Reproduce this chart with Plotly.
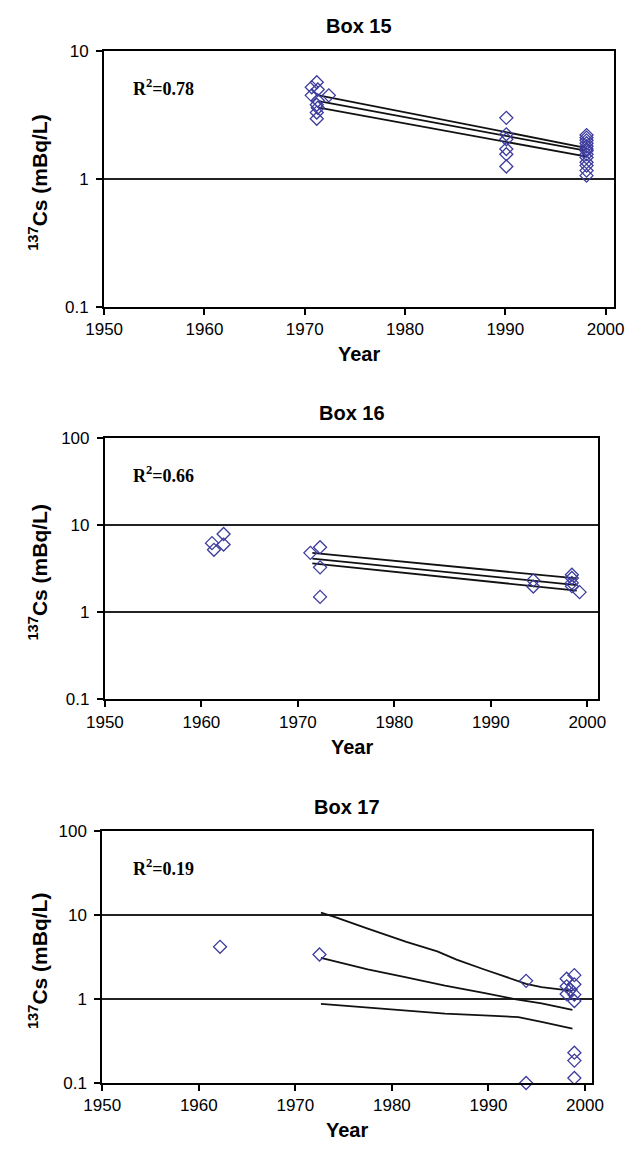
import plotly.graph_objects as go

# ---- data: 137Cs activity (mBq/L) by sampling year ----
box15_year = [1971.2, 1970.7, 1971.3, 1970.7, 1972.4, 1971.3, 1971.2, 1971.3, 1971.2, 1971.2,
              1990.1, 1990.1, 1990.1, 1990.1, 1990.1, 1990.1,
              1998.1, 1998.1, 1998.1, 1998.1, 1998.1, 1998.1, 1998.1, 1998.1, 1998.1,
              1998.1, 1998.1, 1998.1, 1998.1]
box15_cs = [5.7, 5.2, 5.0, 4.5, 4.5, 4.1, 3.8, 3.6, 3.3, 2.95,
            3.0, 2.23, 2.04, 1.71, 1.56, 1.25,
            2.2, 2.1, 2.0, 1.9, 1.8, 1.71, 1.66, 1.56, 1.47,
            1.35, 1.27, 1.16, 1.06]
box15_fit_year = [1971.4, 1998.0]
box15_fit_hi = [4.5, 1.75]
box15_fit_mid = [4.05, 1.66]
box15_fit_lo = [3.6, 1.5]

box16_year = [1961.1, 1961.3, 1962.3, 1962.3,
              1971.3, 1972.3, 1972.3, 1972.3,
              1994.4, 1994.4,
              1998.4, 1998.4, 1998.4, 1998.4, 1999.2]
box16_cs = [6.2, 5.2, 7.9, 5.97,
            4.8, 5.57, 3.27, 1.5,
            2.32, 1.97,
            2.69, 2.47, 2.17, 1.99, 1.70]
box16_fit_year = [1971.5, 1998.9]
box16_fit_hi = [4.8, 2.44]
box16_fit_mid = [4.13, 2.05]
box16_fit_lo = [3.63, 1.77]

box17_year = [1962.2, 1972.5, 1993.9, 1993.9,
              1998.1, 1998.9, 1998.9, 1998.1, 1998.5, 1998.9, 1998.1, 1998.9,
              1998.9, 1998.9, 1998.9]
box17_cs = [4.2, 3.4, 1.65, 0.1,
            1.75, 1.93, 1.5, 1.42, 1.3, 1.13, 1.15, 0.95,
            0.23, 0.185, 0.115]
box17_hi_year = [1972.65, 1974.2, 1977.5, 1979.9, 1981.5, 1984.7, 1986.7, 1989.5,
                 1991.9, 1993.9, 1995.5, 1998.7]
box17_fit_hi = [10.7, 9.4, 6.9, 5.5, 4.8, 3.7, 2.96, 2.27, 1.81, 1.52, 1.39, 1.25]
box17_mid_year = [1972.65, 1977.5, 1981.5, 1985.5, 1989.5, 1992.7, 1995.5, 1998.7]
box17_fit_mid = [3.09, 2.26, 1.81, 1.45, 1.19, 1.0, 0.89, 0.745]
box17_lo_year = [1972.65, 1977.5, 1981.5, 1985.5, 1989.5, 1993.1, 1995.5, 1998.7]
box17_fit_lo = [0.875, 0.79, 0.726, 0.67, 0.64, 0.61, 0.535, 0.445]

panel_titles = ["Box 15", "Box 16", "Box 17"]
r2_labels = ["R<sup>2</sup>=0.78", "R<sup>2</sup>=0.66", "R<sup>2</sup>=0.19"]
x_ticks = [1950, 1960, 1970, 1980, 1990, 2000]
y_ticks = [0.1, 1, 10, 100]
y_ticktext = ["0.1", "1", "10", "100"]

# ---- layout geometry (pixels) ----
W, H = 638, 1155
# left, right, top, bottom of each plot area; x-range end; y-range (log10)
panels = [
    dict(l=89.5, r=625.0, t=42.7, b=302.7, xend=2000.8, yr=[-1, 1]),
    dict(l=90.3, r=609.0, t=436.0, b=702.0, xend=2001.15, yr=[-1, 2]),
    dict(l=87.5, r=602.0, t=836.0, b=1092.0, xend=2000.7, yr=[-1, 2]),
]

series = [
    (box15_year, box15_cs,
     [(box15_fit_year, box15_fit_hi), (box15_fit_year, box15_fit_mid), (box15_fit_year, box15_fit_lo)]),
    (box16_year, box16_cs,
     [(box16_fit_year, box16_fit_hi), (box16_fit_year, box16_fit_mid), (box16_fit_year, box16_fit_lo)]),
    (box17_year, box17_cs,
     [(box17_hi_year, box17_fit_hi), (box17_mid_year, box17_fit_mid), (box17_lo_year, box17_fit_lo)]),
]

MARKER_COLOR = "#3c3c9e"
tick_font = dict(family="Liberation Sans, Arial", size=17, color="black")
bold_font = dict(family="Liberation Sans, Arial", size=20, color="black")

fig = go.Figure()
annotations = []

for i, (p, (xs, ys, fits)) in enumerate(zip(panels, series)):
    n = "" if i == 0 else str(i + 1)
    xa, ya = "x" + n, "y" + n
    for fx, fy in fits:
        fig.add_trace(go.Scatter(x=fx, y=fy, mode="lines", xaxis=xa, yaxis=ya,
                                 line=dict(color="#111111", width=1.8), showlegend=False,
                                 hoverinfo="skip"))
    fig.add_trace(go.Scatter(x=xs, y=ys, mode="markers", xaxis=xa, yaxis=ya,
                             marker=dict(symbol="diamond-open", size=10, color=MARKER_COLOR,
                                         line=dict(width=1.3, color=MARKER_COLOR)),
                             showlegend=False, cliponaxis=False))

    xdom = [p["l"] / W, p["r"] / W]
    ydom = [1 - p["b"] / H, 1 - p["t"] / H]
    fig.layout["xaxis" + n] = dict(
        domain=xdom, anchor=ya, range=[1950, p["xend"]], tickvals=x_ticks,
        showgrid=False, zeroline=False, showline=True, linecolor="black", linewidth=2,
        mirror=True, ticks="outside", ticklen=6, tickwidth=1.5, tickcolor="black",
        tickfont=tick_font,
    )
    fig.layout["yaxis" + n] = dict(
        domain=ydom, anchor=xa, type="log", range=p["yr"], tickvals=y_ticks,
        ticktext=y_ticktext, showgrid=True, gridcolor="#222222", gridwidth=2,
        zeroline=False, showline=True, linecolor="black", linewidth=2, mirror=True,
        ticks="outside", ticklen=6, tickwidth=1.5, tickcolor="black", tickfont=tick_font,
        ticklabelstandoff=4,
    )

    cx = (p["l"] + p["r"]) / 2
    cy = (p["t"] + p["b"]) / 2
    # panel title
    annotations.append(dict(text="<b>%s</b>" % panel_titles[i], x=cx / W, y=1 - (p["t"] - 25) / H,
                            xref="paper", yref="paper", showarrow=False, font=bold_font,
                            xanchor="center", yanchor="middle"))
    # x-axis title
    annotations.append(dict(text="<b>Year</b>", x=cx / W, y=1 - (p["b"] + 48) / H,
                            xref="paper", yref="paper", showarrow=False, font=bold_font,
                            xanchor="center", yanchor="middle"))
    # y-axis title
    annotations.append(dict(text="<b><sup>137</sup>Cs (mBq/L)</b>", x=20 / W, y=1 - (cy + 4) / H,
                            xref="paper", yref="paper", showarrow=False,
                            font=dict(family="Liberation Sans, Arial", size=21, color="black"),
                            textangle=-90, xanchor="center", yanchor="middle"))
    # coefficient of determination
    annotations.append(dict(text="<b>%s</b>" % r2_labels[i], x=118 / W, y=1 - (p["t"] + 37) / H,
                            xref="paper", yref="paper", showarrow=False,
                            font=dict(family="Liberation Serif, Times New Roman", size=18,
                                      color="black"),
                            xanchor="left", yanchor="middle"))

fig.update_layout(
    width=W, height=H, margin=dict(l=0, r=0, t=0, b=0),
    paper_bgcolor="white", plot_bgcolor="white",
    annotations=annotations, showlegend=False,
)

fig.write_html("out.html")
